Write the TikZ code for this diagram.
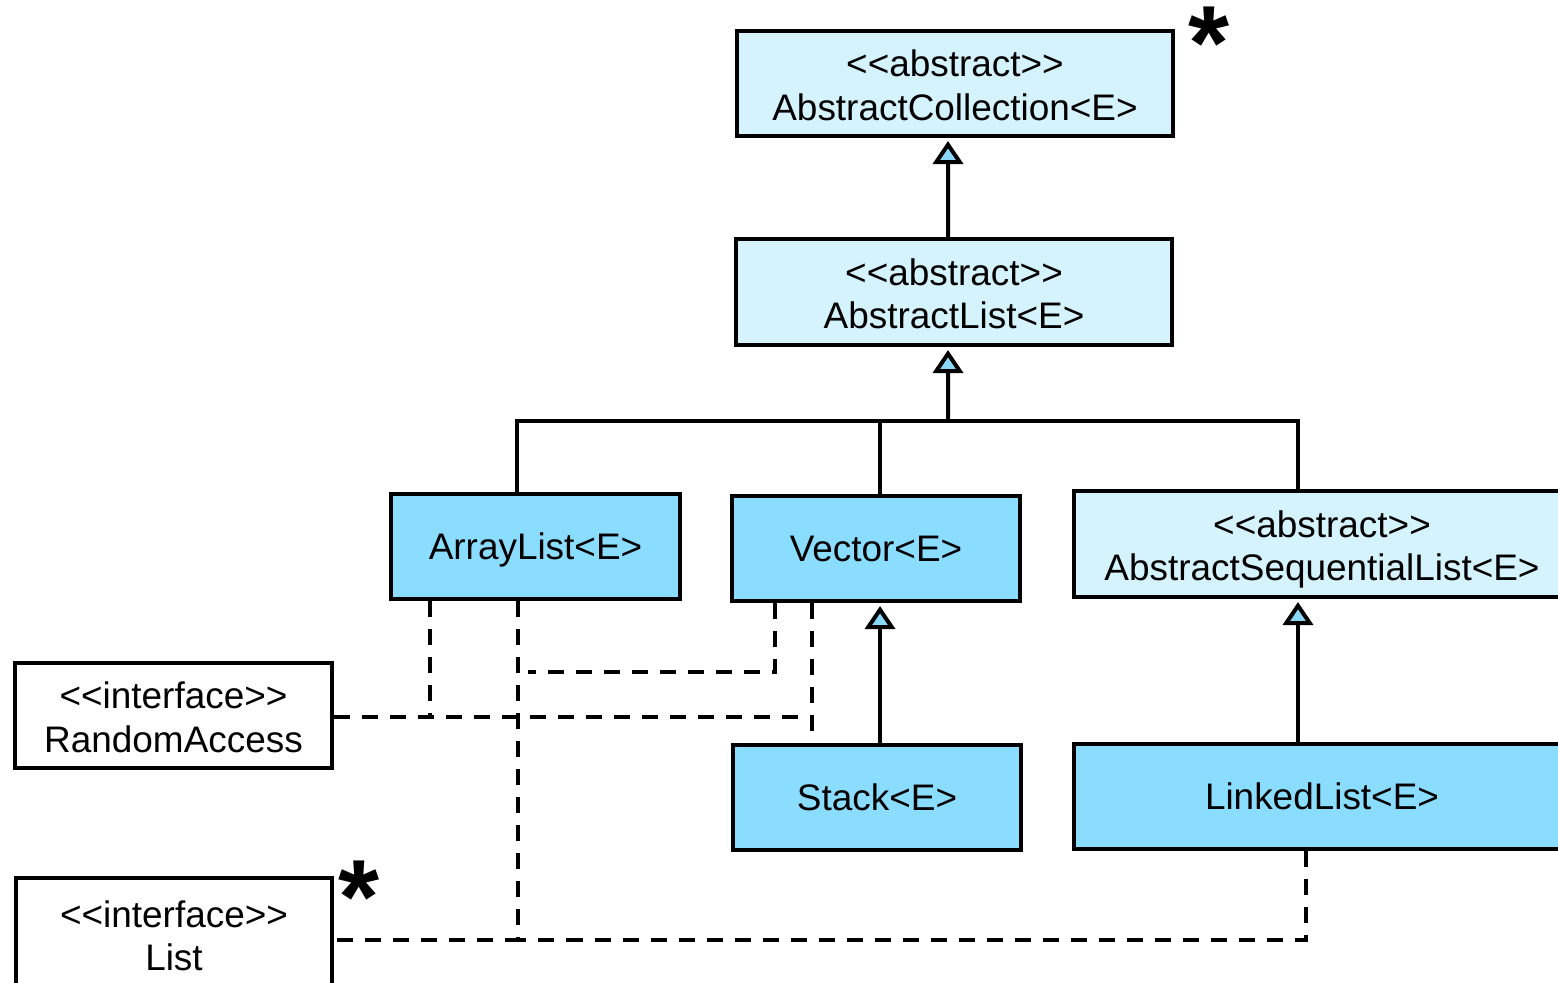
\documentclass[tikz,border=0pt]{standalone}
\usepackage{fontspec}
\setmainfont{Liberation Sans}[Ligatures=TeXOff]
\usetikzlibrary{arrows.meta}
\definecolor{paleblue}{HTML}{D5F3FD}
\definecolor{skyblue}{HTML}{8ADDFF}
\definecolor{tipblue}{HTML}{8AD8F8}
% uniform line struts so that descenders do not shift the text
\newcommand\oneline{\rule[-2.6pt]{0pt}{12.4pt}}
\newcommand\topline{\rule{0pt}{11.2pt}}
\newcommand\botline{\rule[-2.6pt]{0pt}{2.6pt}}
\begin{document}
\begin{tikzpicture}[x=0.01cm,y=-0.01cm,
  box/.style={draw=black, line width=0.04cm, align=center, inner sep=0pt,
    font=\fontsize{10.5}{12.4}\selectfont},
  abstractbox/.style={box, fill=paleblue},
  classbox/.style={box, fill=skyblue},
  ifacebox/.style={box, fill=white},
  link/.style={line width=0.04cm},
  inherit/.style={link, shorten >=0.03cm,
    -{Triangle[width=0.3cm, length=0.23cm, fill=tipblue, line width=0.04cm]}},
  realize/.style={link, dash pattern=on 0.16cm off 0.12cm},
  star/.style={inner sep=0pt, font=\fontsize{30}{30}\selectfont\bfseries}
]
\useasboundingbox (0,0) rectangle (1558,983);
\clip (0,0) rectangle (1558,983);

% class boxes
\node[abstractbox, minimum width=4.35cm, minimum height=1.05cm] (AC) at (955,83.5)
  {\topline<<abstract>>\\AbstractCollection<E>\botline};
\node[abstractbox, minimum width=4.35cm, minimum height=1.06cm] (AL) at (954,292)
  {\topline<<abstract>>\\AbstractList<E>\botline};
\node[classbox, minimum width=2.88cm, minimum height=1.05cm] (AR) at (535.5,546.5)
  {\oneline ArrayList<E>};
\node[classbox, minimum width=2.87cm, minimum height=1.05cm] (V) at (876,548.5)
  {\oneline Vector<E>};
\node[abstractbox, minimum width=4.96cm, minimum height=1.06cm] (ASL) at (1322,544)
  {\topline<<abstract>>\\AbstractSequentialList<E>\botline};
\node[classbox, minimum width=2.87cm, minimum height=1.05cm] (S) at (877,797.5)
  {\oneline Stack<E>};
\node[classbox, minimum width=4.96cm, minimum height=1.05cm] (LL) at (1322,796.5)
  {\oneline LinkedList<E>};
\node[ifacebox, minimum width=3.16cm, minimum height=1.05cm] (RA) at (173.5,715.5)
  {\topline<<interface>>\\RandomAccess\botline};
\node[ifacebox, minimum width=3.16cm, minimum height=1.11cm] (L) at (174,934)
  {\topline<<interface>>\\List\botline};

% markers
\node[star, anchor=north west] (s1) at (1188,6) {*};
\node[star, anchor=north west] (s2) at (338,860) {*};

% inheritance
\draw[inherit] ([xshift=-0.06cm]AL.north) -- ([xshift=-0.07cm]AC.south);
\coordinate (bus) at (948,421);
\coordinate (arTop) at ([xshift=-0.185cm]AR.north);
\coordinate (vTop) at ([xshift=0.04cm]V.north);
\coordinate (aslTop) at ([xshift=-0.24cm]ASL.north);
\draw[link] (arTop) -- (arTop |- bus) -- (aslTop |- bus) -- (aslTop);
\draw[link] (vTop) -- (vTop |- bus);
\draw[inherit] (bus) -- ([xshift=-0.06cm]AL.south);
\draw[inherit] ([xshift=0.03cm]S.north) -- ([xshift=0.04cm]V.south);
\draw[inherit] ([xshift=-0.24cm]LL.north) -- ([xshift=-0.24cm]ASL.south);

% realization of RandomAccess
\coordinate (vDash) at ([xshift=-0.64cm]V.south);
\coordinate (raY) at (0,717);
\draw[realize] (vDash) -- (vDash |- S.north);
\draw[realize] ([xshift=-1.055cm]AR.south) -- ([xshift=-1.055cm]AR.south |- raY) -- (RA.east |- raY);
\draw[realize] (RA.east |- raY) -- (vDash |- raY);

% realization of List
\coordinate (listJoin) at (518,940);
\coordinate (vecJoin) at (518,672);
\draw[realize] (listJoin |- AR.south) -- (listJoin) -- (listJoin -| L.east);
\draw[realize] ([xshift=-0.16cm]LL.south) |- (listJoin);
\draw[realize] ([xshift=-1.01cm]V.south) |- ([xshift=0.1cm]vecJoin);
\end{tikzpicture}
\end{document}
